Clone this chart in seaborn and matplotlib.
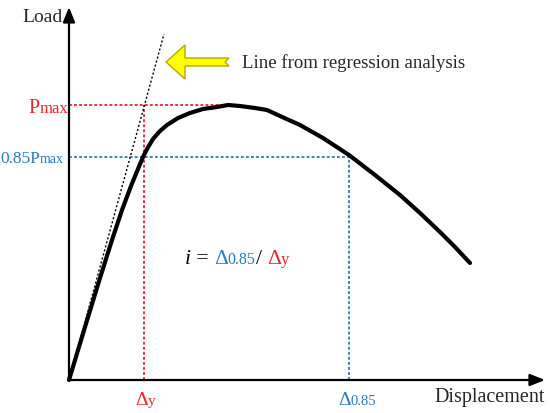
import numpy as np
import matplotlib
matplotlib.use("Agg")
import matplotlib.pyplot as plt
import matplotlib.transforms as mtransforms
import seaborn as sns

# 荷重-変位曲線 (任意単位)
disp = [0.0, 1.6, 3.1, 4.3, 5.3, 6.2, 6.9, 7.4, 7.8, 8.4, 9.1, 9.8, 10.9,
        12.1, 13.4, 14.8, 15.9, 17.1, 18.6, 19.8, 21.1, 23.1, 25.4, 28.0,
        30.6, 33.1, 35.1, 37.1, 38.6, 40.1]
load = [0.0, 5.3, 10.2, 14.0, 17.0, 19.4, 21.1, 22.3, 23.1, 24.1, 24.9, 25.5,
        26.2, 26.7, 27.1, 27.3, 27.5, 27.4, 27.2, 27.0, 26.4, 25.5, 24.2, 22.5,
        20.5, 18.5, 16.7, 14.8, 13.3, 11.7]

# 回帰直線
reg_x = [0.0, 9.5]
reg_y = [0.0, 34.6]

p_max = 27.5
p_085 = 22.3
delta_y = 7.5
delta_085 = 28.0
x_peak = 15.9

RED = "#e8252b"
BLUE = "#2b7bc0"
SERIF = "Liberation Serif"


def color_text(ax, x, y, parts, ha="left"):
    """色・サイズの違う文字列をベースラインで横に並べる"""
    fig = ax.figure
    renderer = fig.canvas.get_renderer()
    texts = []
    for s, c, size, style in parts:
        txt = ax.text(x, y, s, color=c, fontsize=size, family=SERIF,
                      style=style, va="baseline")
        texts.append(txt)
    widths = [t.get_window_extent(renderer).width for t in texts]
    shift = -sum(widths) if ha == "right" else (-sum(widths) / 2 if ha == "center" else 0)
    for txt, w in zip(texts, widths):
        txt.set_transform(ax.transData + mtransforms.Affine2D().translate(shift, 0))
        shift += w


sns.set_theme(style="white")
plt.rcParams["font.family"] = [SERIF, "DejaVu Serif"]

fig = plt.figure(figsize=(5.5, 4.13), dpi=100)
ax = fig.add_axes([0, 0, 1, 1])
ax.set_xlim(-6.9, 48.1)
ax.set_ylim(-3.3, 38.0)
ax.axis("off")

# 座標軸 (矢印)
ax.annotate("", xy=(47.6, 0), xytext=(0, 0),
            arrowprops=dict(arrowstyle="-|>,head_length=0.75,head_width=0.3",
                            color="black", lw=1.6, shrinkA=0, shrinkB=0))
ax.annotate("", xy=(0, 37.3), xytext=(0, 0),
            arrowprops=dict(arrowstyle="-|>,head_length=0.75,head_width=0.3",
                            color="black", lw=1.6, shrinkA=0, shrinkB=0))

# 補助線
dot = (0, (1.6, 1.2))
ax.plot([0, x_peak], [p_max, p_max], color=RED, lw=1.3, ls=dot)
ax.plot([delta_y, delta_y], [0, p_max], color=RED, lw=1.3, ls=dot)
ax.plot([0, delta_085], [p_085, p_085], color=BLUE, lw=1.3, ls=dot)
ax.plot([delta_085, delta_085], [0, p_085], color=BLUE, lw=1.3, ls=dot)

# 回帰直線
ax.plot(reg_x, reg_y, color="black", lw=1.0, ls=(0, (1.5, 1.5)))

# 荷重-変位曲線
sns.lineplot(x=disp, y=load, color="black", lw=3.0, sort=False,
             estimator=None, ax=ax, solid_capstyle="round", solid_joinstyle="round")

# 黄色の矢印
ax.add_patch(plt.Polygon([(9.7, 31.8), (11.6, 33.5), (11.6, 32.2), (16.0, 32.2),
                          (15.6, 31.8), (16.0, 31.4), (11.6, 31.4), (11.6, 30.1)],
                         closed=True, facecolor="#ffff00", edgecolor="#b8a800", lw=1.0))

fig.canvas.draw()

ax.text(17.3, 31.2, "Line from regression analysis", fontsize=13.5,
        family=SERIF, va="baseline")
ax.text(-4.7, 35.8, "Load", fontsize=14, family=SERIF, va="baseline")
ax.text(36.5, -2.2, "Displacement", fontsize=14.5, family=SERIF, va="baseline")

color_text(ax, -0.1, 26.7, [("P", RED, 14.5, "normal"), ("max", RED, 12, "normal")], ha="right")
color_text(ax, -0.5, 21.7, [("0.85P", BLUE, 12.5, "normal"), ("max", BLUE, 10, "normal")], ha="right")
color_text(ax, delta_y - 0.9, -2.5, [("Δ", RED, 14, "normal"), ("y", RED, 11, "normal")])
color_text(ax, delta_085 - 1.1, -2.5, [("Δ", BLUE, 14, "normal"), ("0.85", BLUE, 10.5, "normal")])
color_text(ax, 11.6, 11.6, [("i", "black", 15.5, "italic"), (" = ", "black", 15.5, "normal"),
                            ("Δ", BLUE, 15.5, "normal"), ("0.85", BLUE, 11.5, "normal"),
                            ("/ ", "black", 15.5, "normal"), ("Δ", RED, 15.5, "normal"),
                            ("y", RED, 12, "normal")])

fig.savefig("out.png", dpi=100)
plt.close(fig)
